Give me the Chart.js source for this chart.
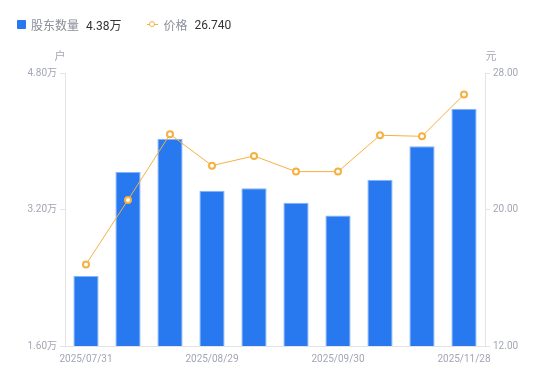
<!DOCTYPE html>
<html>
<head>
<meta charset="utf-8">
<script src="https://cdn.jsdelivr.net/npm/chart.js@4/dist/chart.umd.min.js"></script>
<style>
  html, body { margin: 0; padding: 0; background: #fff; }
  #wrap { position: relative; width: 550px; height: 381px; }
  #legend { position: absolute; left: 17px; top: 16px; font-family: "Noto Sans CJK SC", Roboto, sans-serif; font-size: 12px; color: #8a8d99; display: flex; align-items: center; white-space: nowrap; }
  .item { display: flex; align-items: center; margin-right: 26px; }
  .sq { width: 9px; height: 9px; background: #2878f0; border-radius: 1px; margin-right: 5px; }
  .ln { position: relative; width: 11px; height: 9px; margin-right: 5px; }
  .ln:before { content: ""; position: absolute; left: 0; right: 0; top: 4px; height: 1px; background: #f5b041; }
  .ln:after { content: ""; position: absolute; left: 2px; top: 1px; width: 4px; height: 4px; border: 1.5px solid #f5b041; border-radius: 50%; background: #fff; }
  .val { color: #333; margin-left: 7px; font-family: Roboto, "Noto Sans CJK SC", sans-serif; }
</style>
</head>
<body>
<div id="wrap">
  <div id="legend"></div>
  <canvas id="c" width="550" height="381"></canvas>
</div>
<script>
const categories = ["2025/07/31","2025/08/08","2025/08/20","2025/08/29","2025/09/10","2025/09/19","2025/09/30","2025/10/20","2025/10/31","2025/11/28"];
const holders = [24200, 36400, 40300, 34200, 34500, 32800, 31300, 35500, 39400, 43800];
const prices = [16.78, 20.56, 24.41, 22.57, 23.14, 22.22, 22.22, 24.35, 24.29, 26.74];
const leftTicks = [16000, 32000, 48000];
const rightTicks = [12, 20, 28];
const seriesNames = ["股东数量", "价格"];
const axisUnits = ["户", "元"];

const lastH = holders[holders.length - 1];
const lastP = prices[prices.length - 1];
document.getElementById('legend').innerHTML =
  '<div class="item"><div class="sq"></div><span>' + seriesNames[0] + '</span><span class="val">' + (lastH / 10000).toFixed(2) + '万</span></div>' +
  '<div class="item"><div class="ln"></div><span>' + seriesNames[1] + '</span><span class="val">' + lastP.toFixed(3) + '</span></div>';

const tickColor = '#a3a6b4';
const lineGray = '#e3e3e8';
const tickFont = { family: 'Roboto, "Noto Sans CJK SC", sans-serif', size: 10 };

const unitPlugin = {
  id: 'units',
  afterDraw(chart) {
    const ctx = chart.ctx, a = chart.chartArea;
    ctx.save();
    ctx.font = '11px "Noto Sans CJK SC", sans-serif';
    ctx.fillStyle = tickColor;
    ctx.textBaseline = 'middle';
    ctx.textAlign = 'center';
    ctx.fillText(axisUnits[0], a.left - 5, 56);
    ctx.fillText(axisUnits[1], a.right + 6, 56);
    ctx.restore();
  }
};

new Chart(document.getElementById('c'), {
  data: {
    labels: categories,
    datasets: [
      {
        type: 'line', label: seriesNames[1], data: prices, yAxisID: 'y1', order: 0,
        borderColor: '#f5b041', borderWidth: 1, tension: 0,
        pointRadius: 3, pointBorderWidth: 2, pointBackgroundColor: '#fff', pointBorderColor: '#f5b041',
        pointHoverRadius: 3
      },
      {
        type: 'bar', label: seriesNames[0], data: holders, yAxisID: 'y', order: 1,
        backgroundColor: '#2878f0', borderColor: '#86b4f6', borderWidth: 1,
        categoryPercentage: 1, barPercentage: 0.6
      }
    ]
  },
  options: {
    responsive: false,
    animation: false,
    layout: { padding: { top: 73, left: 0, right: 0, bottom: 0 } },
    plugins: { legend: { display: false }, tooltip: { enabled: false } },
    scales: {
      x: {
        type: 'category', offset: true,
        grid: { display: false, drawTicks: false, tickLength: 0 },
        border: { display: true, color: lineGray },
        ticks: {
          color: tickColor, font: tickFont, maxRotation: 0, autoSkip: false, padding: 7,
          callback: function(v, i) { return (i % 3 === 0) ? categories[i] : ''; }
        },
        afterFit(s) { s.height = 35; }
      },
      y: {
        position: 'left', min: 16000, max: 48000,
        afterBuildTicks(s) { s.ticks = leftTicks.map(v => ({ value: v })); },
        grid: { display: true, drawOnChartArea: false, drawTicks: true, tickLength: 5, color: lineGray },
        border: { display: true, color: lineGray },
        ticks: { color: tickColor, font: tickFont, padding: 3, callback: v => (v / 10000).toFixed(2) + '万' },
        afterFit(s) { s.width = 65; }
      },
      y1: {
        position: 'right', min: 12, max: 28,
        afterBuildTicks(s) { s.ticks = rightTicks.map(v => ({ value: v })); },
        grid: { display: true, drawOnChartArea: false, drawTicks: true, tickLength: 5, color: lineGray },
        border: { display: true, color: lineGray },
        ticks: { color: tickColor, font: tickFont, padding: 3, callback: v => Number(v).toFixed(2) },
        afterFit(s) { s.width = 65; }
      }
    }
  },
  plugins: [unitPlugin]
});
</script>
</body>
</html>
